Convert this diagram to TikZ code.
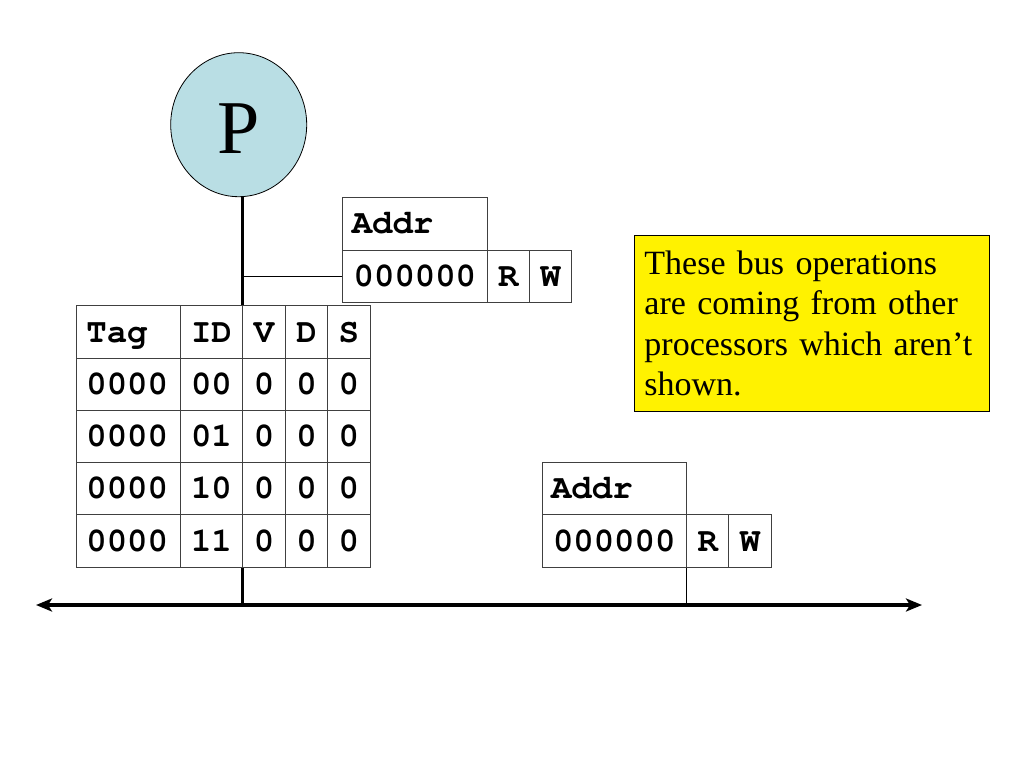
\documentclass[tikz,border=0pt]{standalone}
\usepackage{fontspec}
\setmainfont{Liberation Serif}
\newfontfamily\courier{texgyrecursor}[Extension=.otf, UprightFont=*-regular, BoldFont=*-bold]
\usetikzlibrary{arrows.meta,shapes.geometric}
\definecolor{procblue}{RGB}{185,222,228}
\tikzset{%
	cell/.style    = {draw=black!75, line width=0.9pt, fill=white, minimum height=52.3pt, inner sep=0pt, text height=20pt, text depth=0pt, font=\courier\bfseries\fontsize{34}{40}\selectfont},
	tagcell/.style = {cell, minimum width=103.7pt, text width=83.7pt, align=left},
	idcell/.style  = {cell, minimum width=62.7pt},
	bitcell/.style = {cell, minimum width=42.5pt},
	addrcell/.style= {cell, minimum width=144.3pt, text width=126.3pt, align=left},
	numcell/.style = {cell, minimum width=144.3pt},
	proc/.style    = {draw, ellipse, fill=procblue, line width=0.8pt, minimum width=136pt, minimum height=144pt, inner sep=0pt, text height=57pt, text depth=0pt, font=\fontsize{76}{80}\selectfont},
	note/.style    = {draw, fill=yellow, line width=0.9pt, text width=334.7pt, inner xsep=10pt, inner ysep=14.8pt, align=left, font=\fontsize{34}{40.6}\selectfont},
	bus/.style     = {line width=3.5pt, {Stealth[length=16pt,width=13pt,inset=4pt]}-{Stealth[length=16pt,width=13pt,inset=4pt]}},
	stem/.style    = {line width=3pt},
	wire/.style    = {line width=0.9pt},
}
\begin{document}
\begin{tikzpicture}[x=1pt,y=-1pt]
	\fill[white] (0,0) rectangle (1024,768);
	\useasboundingbox (0,0) rectangle (1024,768);
	% processor and bus
	\node[proc] (P) at (238.7,124.7) {P};
	\coordinate (busL) at (36,605);
	\coordinate (busR) at (922,605);
	\coordinate (tap) at (242.7,605);
	\draw[bus] (busL) -- (busR);
	\draw[stem] (tap |- P.south) -- (tap);
	% cache table
	\node[tagcell] (tag) at (128.2,332) {Tag};
	\node[idcell]  (id)  at (211.4,332) {ID};
	\node[bitcell] (v)   at (264,332)   {V};
	\node[bitcell] (d)   at (306.5,332) {D};
	\node[bitcell] (s)   at (348.7,332) {S};
	\node[tagcell] (t0) at (128.2,384.3) {0000};
	\node[idcell]  (i0) at (211.4,384.3) {00};
	\node[bitcell] (v0) at (264,384.3)   {0};
	\node[bitcell] (d0) at (306.5,384.3) {0};
	\node[bitcell] (s0) at (348.7,384.3) {0};
	\node[tagcell] (t1) at (128.2,436.4) {0000};
	\node[idcell]  (i1) at (211.4,436.4) {01};
	\node[bitcell] (v1) at (264,436.4)   {0};
	\node[bitcell] (d1) at (306.5,436.4) {0};
	\node[bitcell] (s1) at (348.7,436.4) {0};
	\node[tagcell] (t2) at (128.2,488.8) {0000};
	\node[idcell]  (i2) at (211.4,488.8) {10};
	\node[bitcell] (v2) at (264,488.8)   {0};
	\node[bitcell] (d2) at (306.5,488.8) {0};
	\node[bitcell] (s2) at (348.7,488.8) {0};
	\node[tagcell] (t3) at (128.2,541)   {0000};
	\node[idcell]  (i3) at (211.4,541)   {11};
	\node[bitcell] (v3) at (264,541)     {0};
	\node[bitcell] (d3) at (306.5,541)   {0};
	\node[bitcell] (s3) at (348.7,541)   {0};
	% request from the processor
	\node[addrcell] (addrA) at (414.9,223.9) {Addr};
	\node[numcell]  (numA)  at (414.9,276.2) {000000};
	\node[bitcell]  (rA)    at (508.2,276.2) {R};
	\node[bitcell]  (wA)    at (550.5,276.2) {W};
	\draw[wire] (tap |- numA.west) -- (numA.west);
	% request on the bus
	\node[addrcell] (addrB) at (614.2,488.7) {Addr};
	\node[numcell]  (numB)  at (614.2,541)   {000000};
	\node[bitcell]  (rB)    at (707.7,541)   {R};
	\node[bitcell]  (wB)    at (750,541)     {W};
	\draw[wire] (numB.south east) -- (numB.south east |- tap);
	% remark
	\node[note, anchor=north west] (remark) at (634,235.3) {These bus operations\\are coming from other\\processors which aren’t\\shown.};
\end{tikzpicture}
\end{document}
